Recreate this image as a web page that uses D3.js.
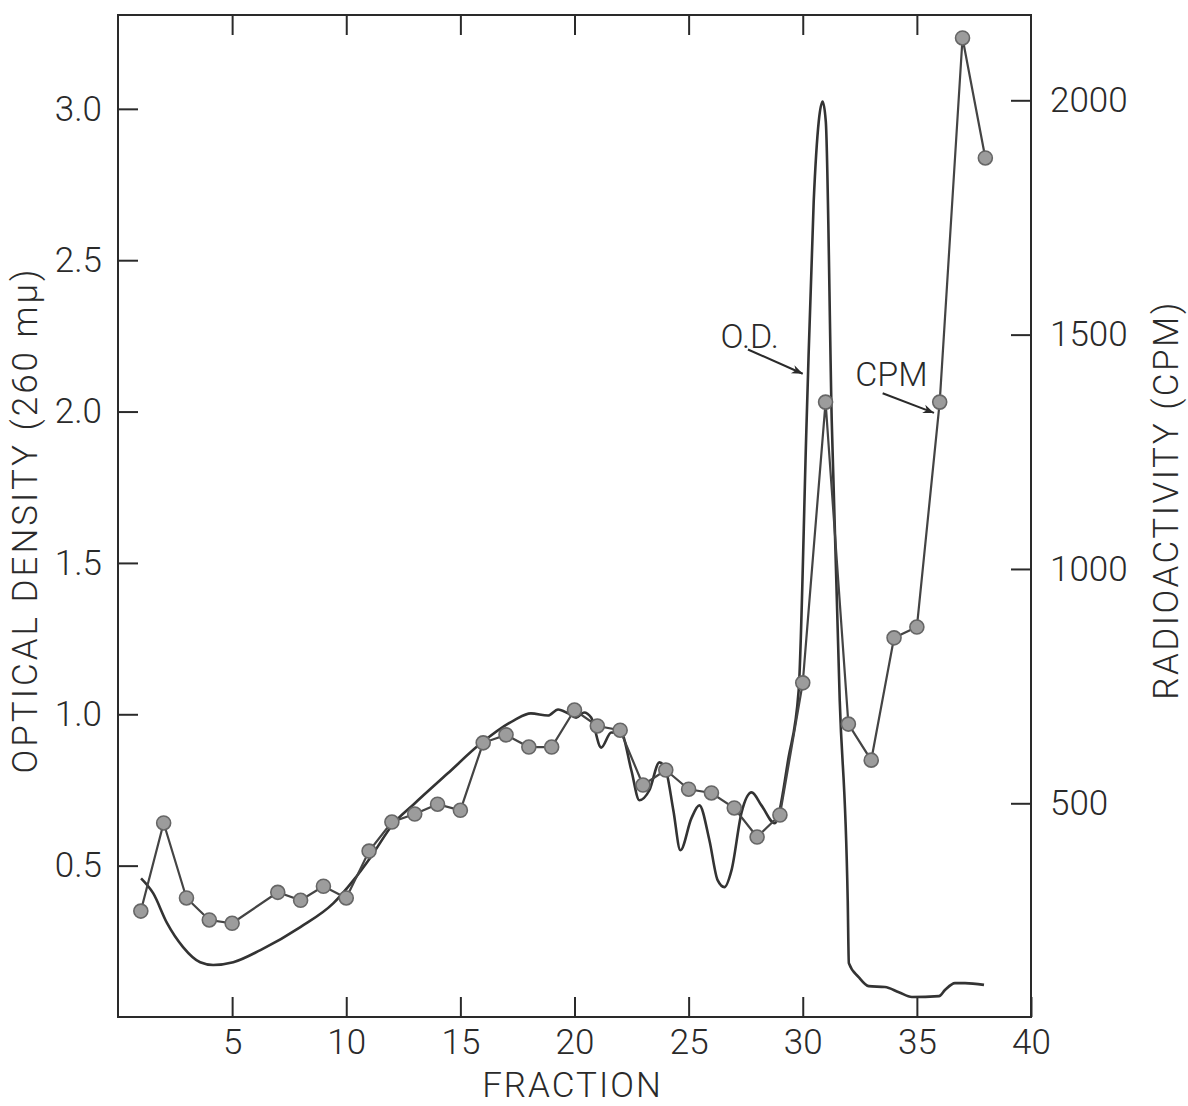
<!DOCTYPE html>
<html>
<head>
<meta charset="utf-8">
<script src="https://cdn.jsdelivr.net/npm/d3@7"></script>
<style>
  html, body { margin: 0; padding: 0; background: #ffffff; }
  svg { display: block; }
  text { font-family: Roboto, "Liberation Sans", Arial, sans-serif; font-weight: 300; fill: #2a2a2a; }
</style>
</head>
<body>
<svg id="chart" width="1188" height="1106"></svg>
<script>
// ---------- data ----------
const fractionTicks = [5, 10, 15, 20, 25, 30, 35, 40];
const topTicks = [5, 10, 15, 20, 25, 30, 35];
const odTicks = [0.5, 1.0, 1.5, 2.0, 2.5, 3.0];
const cpmTicks = [500, 1000, 1500, 2000];

// radioactivity (CPM) per fraction (fraction 6 not plotted)
const cpmFractions = [1, 2, 3, 4, 5, 7, 8, 9, 10, 11, 12, 13, 14, 15, 16, 17, 18, 19, 20,
  21, 22, 23, 24, 25, 26, 27, 28, 29, 30, 31, 32, 33, 34, 35, 36, 37, 38];
const cpmValues = [270, 458, 298, 251, 244, 310, 293, 323, 298, 398, 460, 477, 498, 485, 629,
  646, 620, 620, 699, 665, 656, 539, 571, 530, 522, 490, 428, 475, 757, 1356, 669, 592,
  853, 876, 1356, 2133, 1877];

// optical density (260 mμ) continuous trace
const odFractions = [1.01, 1.54, 2.15, 2.85, 3.6, 4.17, 5.05, 6.24, 7.99, 9.44, 10.32, 11.07,
  12.08, 12.96, 14.45, 15.9, 17.35, 18.09, 18.84, 19.28, 19.72, 20.07, 20.42, 20.73, 21.17,
  21.61, 22.05, 22.49, 22.84, 23.28, 23.72, 23.98, 24.33, 24.64, 25.12, 25.47, 25.91, 26.27,
  26.57, 26.88, 27.32, 27.76, 28.19, 28.77, 29.38, 29.82, 30.17, 30.48, 30.7, 30.87, 31.01,
  31.27, 31.62, 31.97, 32.02, 32.45, 32.89, 33.6, 34.21, 34.78, 35.97, 36.23, 36.67, 37.11, 37.94];
const odValues = [0.458, 0.409, 0.31, 0.231, 0.181, 0.172, 0.181, 0.221, 0.297, 0.376, 0.452, 0.528,
  0.64, 0.703, 0.805, 0.904, 0.98, 1.003, 0.996, 1.016, 1.003, 0.989, 1.006, 0.989, 0.89,
  0.94, 0.937, 0.815, 0.716, 0.749, 0.841, 0.821, 0.683, 0.551, 0.656, 0.699, 0.584, 0.452,
  0.429, 0.485, 0.676, 0.742, 0.699, 0.64, 0.858, 1.078, 1.969, 2.695, 2.958, 3.024, 2.958,
  1.969, 1.046, 0.386, 0.178, 0.132, 0.102, 0.099, 0.082, 0.066, 0.069, 0.089, 0.112, 0.112, 0.106];

// ---------- layout ----------
const svg = d3.select("#chart");
const L = 118, R = 1031, T = 15, B = 1017;
const ink = "#2a2a2a";
const FONT = "Roboto, 'Liberation Sans', Arial, sans-serif";

const x = d3.scaleLinear().domain([0, 40]).range([L, R]);
const yOD = d3.scaleLinear().domain([0, 3.31]).range([B, T]);
const yCPM = d3.scaleLinear().domain([44, 2182]).range([B, T]);

function styleAxis(g) {
  g.select(".domain").remove();
  g.selectAll(".tick line").attr("stroke", ink).attr("stroke-width", 2);
  g.selectAll(".tick text").attr("font-size", 35).attr("fill", ink)
    .style("font-family", FONT).style("font-weight", 300);
}

// bottom axis
svg.append("g").attr("transform", `translate(0,${B})`)
  .call(d3.axisBottom(x).tickValues(fractionTicks).tickFormat(d3.format("d"))
    .tickSizeInner(-20).tickSizeOuter(0).tickPadding(12))
  .call(styleAxis);
// top ticks
svg.append("g").attr("transform", `translate(0,${T})`)
  .call(d3.axisTop(x).tickValues(topTicks).tickFormat("")
    .tickSizeInner(-20).tickSizeOuter(0))
  .call(styleAxis);
// left axis
svg.append("g").attr("transform", `translate(${L},0)`)
  .call(d3.axisLeft(yOD).tickValues(odTicks).tickFormat(d3.format(".1f"))
    .tickSizeInner(-20).tickSizeOuter(0).tickPadding(16))
  .call(styleAxis);
// right axis
svg.append("g").attr("transform", `translate(${R},0)`)
  .call(d3.axisRight(yCPM).tickValues(cpmTicks).tickFormat(d3.format("d"))
    .tickSizeInner(-20).tickSizeOuter(0).tickPadding(19))
  .call(styleAxis);

// frame
svg.append("rect").attr("x", L).attr("y", T).attr("width", R - L).attr("height", B - T)
  .attr("fill", "none").attr("stroke", ink).attr("stroke-width", 2);

// axis titles
svg.append("text").attr("x", (L + R) / 2 - 2).attr("y", 1097)
  .attr("text-anchor", "middle").attr("font-size", 35).attr("letter-spacing", 2)
  .text("FRACTION");
svg.append("text").attr("transform", `translate(37,${520}) rotate(-90)`)
  .attr("text-anchor", "middle").attr("font-size", 35).attr("letter-spacing", 3)
  .text("OPTICAL DENSITY (260 mμ)");
svg.append("text").attr("transform", `translate(1178,${500}) rotate(-90)`)
  .attr("text-anchor", "middle").attr("font-size", 35).attr("letter-spacing", 2.5)
  .text("RADIOACTIVITY (CPM)");

// OD trace
const odData = odFractions.map((f, i) => [f, odValues[i]]);
svg.append("path").datum(odData)
  .attr("fill", "none").attr("stroke", "#333").attr("stroke-width", 2.6)
  .attr("stroke-linejoin", "round")
  .attr("d", d3.line().x(d => x(d[0])).y(d => yOD(d[1])).curve(d3.curveMonotoneX));

// CPM line + points
const cpmData = cpmFractions.map((f, i) => [f, cpmValues[i]]);
svg.append("path").datum(cpmData)
  .attr("fill", "none").attr("stroke", "#444").attr("stroke-width", 2.2)
  .attr("d", d3.line().x(d => x(d[0])).y(d => yCPM(d[1])));
svg.append("g").selectAll("circle").data(cpmData).join("circle")
  .attr("cx", d => x(d[0])).attr("cy", d => yCPM(d[1])).attr("r", 7)
  .attr("fill", "#9c9c9c").attr("stroke", "#666").attr("stroke-width", 1.6);

// annotations (placed in data coordinates)
const defs = svg.append("defs");
defs.append("marker").attr("id", "arr").attr("viewBox", "0 0 10 10")
  .attr("refX", 10).attr("refY", 5).attr("markerWidth", 16).attr("markerHeight", 11)
  .attr("markerUnits", "userSpaceOnUse").attr("orient", "auto")
  .append("path").attr("d", "M0,1 L10,5 L0,9 L3,5 Z").attr("fill", ink);

const odLabel = { text: "O.D.", f: 26.4, v: 2.21 };
const odArrow = { f0: 27.6, v0: 2.205, f1: 30.0, v1: 2.125 };
const cpmLabel = { text: "CPM", f: 32.3, v: 1390 };
const cpmArrow = { f0: 33.5, v0: 1375, f1: 35.75, v1: 1333 };

svg.append("text").attr("x", x(odLabel.f)).attr("y", yOD(odLabel.v))
  .attr("font-size", 34).text(odLabel.text);
svg.append("line").attr("x1", x(odArrow.f0)).attr("y1", yOD(odArrow.v0))
  .attr("x2", x(odArrow.f1)).attr("y2", yOD(odArrow.v1))
  .attr("stroke", ink).attr("stroke-width", 2).attr("marker-end", "url(#arr)");
svg.append("text").attr("x", x(cpmLabel.f)).attr("y", yCPM(cpmLabel.v))
  .attr("font-size", 34).text(cpmLabel.text);
svg.append("line").attr("x1", x(cpmArrow.f0)).attr("y1", yCPM(cpmArrow.v0))
  .attr("x2", x(cpmArrow.f1)).attr("y2", yCPM(cpmArrow.v1))
  .attr("stroke", ink).attr("stroke-width", 2).attr("marker-end", "url(#arr)");
</script>
</body>
</html>
